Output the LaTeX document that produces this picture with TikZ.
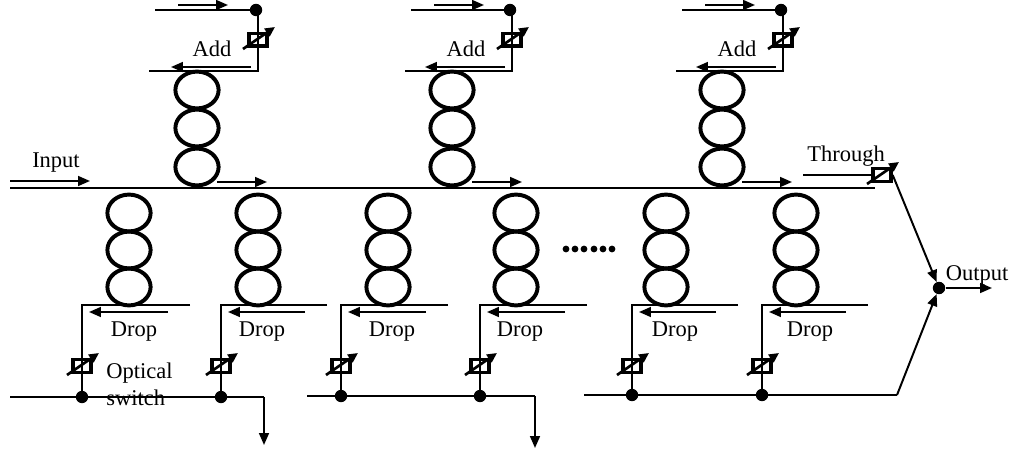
\documentclass[tikz,border=0pt]{standalone}
\usepackage{fontspec}
\setmainfont{Liberation Serif}
\usetikzlibrary{arrows.meta,shapes.geometric}
\tikzset{
  wire/.style={line width=1.6pt},
  flow/.style={line width=1.4pt,-{Triangle[length=8.5pt,width=7pt]}},
  tune/.style={line width=1.9pt,-{Triangle[length=7pt,width=6.5pt]}},
  ring/.style={draw,ellipse,line width=2.8pt,minimum width=1.08cm,minimum height=0.92cm,inner sep=0pt},
  swbox/.style={draw,line width=2.7pt,minimum width=0.44cm,minimum height=0.32cm,inner sep=0pt},
  junction/.style={circle,fill=black,minimum size=0.31cm,inner sep=0pt},
  lbl/.style={font=\fontsize{16}{18}\selectfont,inner sep=0pt}
}
\newcommand{\ringstack}[5]{%
  \node[ring] (#1a) at (#2,#3) {};
  \node[ring] (#1b) at (#2,#4) {};
  \node[ring] (#1c) at (#2,#5) {};
}
\newcommand{\optswitch}[3]{%
  \node[swbox] (#1) at (#2,#3) {};
  \draw[tune] ([shift={(-15,9)}]#1.center) -- ([shift={(17,-13)}]#1.center);
}
\begin{document}
\begin{tikzpicture}[x=0.025cm,y=-0.025cm]
  \useasboundingbox (0,0) rectangle (1016,451);
  % main bus
  \coordinate (busL) at (10,188);
  \coordinate (busR) at (875,188);
  \draw[wire] (busL) -- (busR);
  \coordinate (inA) at (10,181);
  \coordinate (inB) at (90,181);
  \draw[flow] (inA) -- (inB);
  \node[lbl] (input) at (56,163) {Input};
  % add side
  \foreach \n/\rx/\vx/\lx in {p/197/258/149, q/452/512/405, r/722/783/676} {
    \ringstack{up\n}{\rx}{90}{128}{167}
    \node[junction] (top\n) at (\vx-2,10) {};
    \coordinate (corU\n) at (\vx,71);
    \coordinate (endU\n) at (\lx,71);
    \coordinate (topL\n) at (\lx+6,10);
    \draw[wire] (topL\n) -- (top\n);
    \draw[wire] (top\n) -- (\vx,10) -- (corU\n) -- (endU\n);
    \optswitch{swU\n}{\vx}{40}
    \coordinate (aa\n) at (\lx+29,5);
    \coordinate (ab\n) at (\lx+79,5);
    \draw[flow] (aa\n) -- (ab\n);
    \coordinate (ba\n) at (\vx-7,67);
    \coordinate (bb\n) at (\vx-87,67);
    \draw[flow] (ba\n) -- (bb\n);
    \node[lbl] (add\n) at (\vx-46,49) {Add};
    \coordinate (ca\n) at (\rx+20,182);
    \coordinate (cb\n) at (\rx+70,182);
    \draw[flow] (ca\n) -- (cb\n);
  }
  % drop side
  \foreach \n/\rx/\vx/\ex/\tx/\by in {1/129/82/190/134/397, 2/258/221/327/262/397, 3/388/341/448/392/396,
      4/516/480/587/520/396, 5/666/632/738/675/395, 6/796/762/868/810/395} {
    \ringstack{dn\n}{\rx}{213}{250}{287}
    \coordinate (cor\n) at (\vx,305);
    \coordinate (end\n) at (\ex,305);
    \node[junction] (dot\n) at (\vx,\by) {};
    \draw[wire] (end\n) -- (cor\n) -- (dot\n);
    \optswitch{sw\n}{\vx}{366}
    \coordinate (da\n) at (\ex-22,312);
    \coordinate (db\n) at (\vx+7,312);
    \draw[flow] (da\n) -- (db\n);
    \node[lbl] (drop\n) at (\tx,332) {Drop};
  }
  % collecting lines
  \coordinate (leftA) at (10,397);
  \coordinate (bendA) at (264,397);
  \coordinate (tipA) at (264,445);
  \draw[wire] (leftA) -- (dot1) -- (dot2) -- (bendA);
  \draw[flow] (bendA) -- (tipA);
  \coordinate (leftB) at (307,396);
  \coordinate (bendB) at (535,396);
  \coordinate (tipB) at (535,448);
  \draw[wire] (leftB) -- (dot3) -- (dot4) -- (bendB);
  \draw[flow] (bendB) -- (tipB);
  \coordinate (leftC) at (584,395);
  \coordinate (bendC) at (897,395);
  \node[junction] (out) at (939,288) {};
  \draw[wire] (leftC) -- (dot5) -- (dot6) -- (bendC);
  \draw[flow] (bendC) -- (out);
  % through and output
  \coordinate (thrL) at (803,175);
  \optswitch{swT}{882}{175}
  \draw[wire] (thrL) -- (swT);
  \draw[flow] (swT.east) -- (out);
  \coordinate (outEnd) at (992,288);
  \draw[flow] (out) -- (outEnd);
  \node[lbl] (through) at (846,156) {Through};
  \node[lbl] (output) at (977,275) {Output};
  \node[lbl,anchor=west] (optical) at (106,373) {Optical};
  \node[lbl,anchor=west] (switch) at (106,398) {switch};
  % gap dots
  \foreach \x in {566,575,584,594,603,612} {
    \node[circle,fill=black,minimum size=0.17cm,inner sep=0pt] (gap\x) at (\x,249) {};
  }
\end{tikzpicture}
\end{document}
